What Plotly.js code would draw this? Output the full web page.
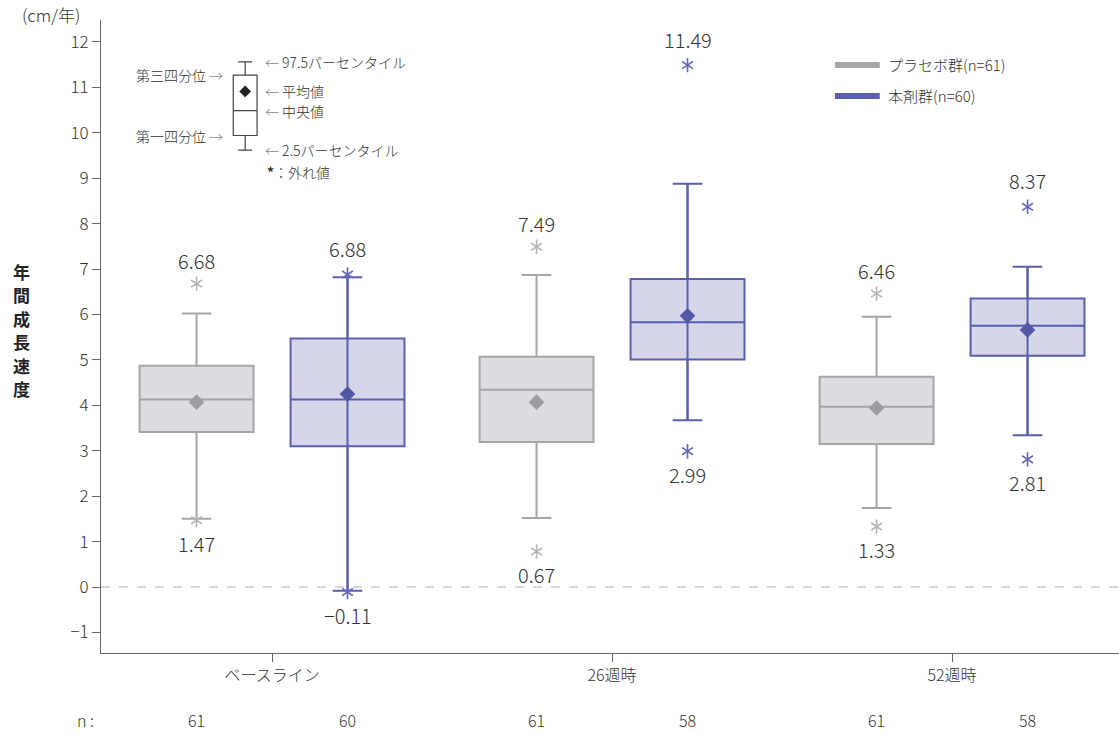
<!DOCTYPE html>
<html>
<head>
<meta charset="utf-8">
<script src="https://cdn.plot.ly/plotly-3.0.1.min.js"></script>
<style>html,body{margin:0;padding:0;background:#fff;}#chart{width:1119px;height:734px;}</style>
</head>
<body>
<div id="chart"></div>
<script>
// ---- data ----
const categories = ['ベースライン', '26週時', '52週時'];

const placeboQ1     = [3.41, 3.19, 3.15];
const placeboMedian = [4.13, 4.34, 3.97];
const placeboQ3     = [4.87, 5.07, 4.63];
const placeboLower  = [1.50, 1.52, 1.74];
const placeboUpper  = [6.02, 6.87, 5.95];
const placeboMean   = [4.07, 4.07, 3.94];
const placeboOutHigh = [6.68, 7.49, 6.46];
const placeboOutLow  = [1.47, 0.67, 1.33];
const placeboOutLowMark = [1.47, 0.78, 1.33];
const placeboN = [61, 61, 61];

const drugQ1     = [3.10, 5.01, 5.09];
const drugMedian = [4.13, 5.83, 5.75];
const drugQ3     = [5.47, 6.78, 6.35];
const drugLower  = [-0.08, 3.67, 3.34];
const drugUpper  = [6.82, 8.88, 7.05];
const drugMean   = [4.25, 5.97, 5.66];
const drugOutHigh = [6.88, 11.49, 8.37];
const drugOutLow  = [-0.11, 2.99, 2.81];
const drugN = [60, 58, 58];

const yTicks = [-1, 0, 1, 2, 3, 4, 5, 6, 7, 8, 9, 10, 11, 12];
const yTitleChars = ['年', '間', '成', '長', '速', '度'];

// key (explanatory inset)
const keyQ1 = [9.94], keyMedian = [10.49], keyQ3 = [11.27], keyLower = [9.62], keyUpper = [11.56], keyMean = [10.91];
const keyLabelsRight = ['97.5パーセンタイル', '平均値', '中央値', '2.5パーセンタイル'];
const keyLabelsLeft = ['第三四分位', '第一四分位'];

// ---- styling ----
const FONT = '"Noto Sans CJK JP", "Noto Sans", sans-serif';
const TXT = '#333333';
const WT = 300;
const GRAY_LINE = '#a4a5a7', GRAY_FILL = '#dcdde0', GRAY_MEAN = '#9c9da0', GRAY_STAR = '#b2b3b5';
const PURP_LINE = '#5a5eae', PURP_FILL = '#d5d6ea', PURP_MEAN = '#5457a8', PURP_STAR = '#6266b6';
const OFF = 0.222, BOXW = 0.335;

const idx = categories.map((c, i) => i);
const xP = idx.map(i => i - OFF);
const xD = idx.map(i => i + OFF);

const traces = [];

function boxTrace(x, q1, med, q3, lo, up, line, fill, lw, ww, w) {
  return {
    type: 'box', x: x, q1: q1, median: med, q3: q3, lowerfence: lo, upperfence: up,
    width: w, whiskerwidth: ww, boxpoints: false,
    line: {color: line, width: lw}, fillcolor: fill, hoverinfo: 'skip', showlegend: false
  };
}
traces.push(boxTrace(xP, placeboQ1, placeboMedian, placeboQ3, placeboLower, placeboUpper, GRAY_LINE, GRAY_FILL, 2, 0.26, BOXW));
traces.push(boxTrace(xD, drugQ1, drugMedian, drugQ3, drugLower, drugUpper, PURP_LINE, PURP_FILL, 2, 0.26, BOXW));

// drug: whisker line continues through the box
const vx = [], vy = [];
idx.forEach(i => { vx.push(xD[i], xD[i], null); vy.push(drugLower[i], drugUpper[i], null); });
traces.push({type: 'scatter', mode: 'lines', x: vx, y: vy, line: {color: PURP_LINE, width: 2}, hoverinfo: 'skip', showlegend: false});

// means
traces.push({type: 'scatter', mode: 'markers', x: xP, y: placeboMean, marker: {symbol: 'diamond', size: 12, color: GRAY_MEAN}, hoverinfo: 'skip', showlegend: false});
traces.push({type: 'scatter', mode: 'markers', x: xD, y: drugMean, marker: {symbol: 'diamond', size: 12, color: PURP_MEAN}, hoverinfo: 'skip', showlegend: false});

// outliers (six-armed asterisks)
function stars(x, y, color, size) {
  ['y-up-open', 'y-down-open'].forEach(s => traces.push({
    type: 'scatter', mode: 'markers', x: x, y: y,
    marker: {symbol: s, size: size, line: {color: color, width: 1.6}, color: color},
    hoverinfo: 'skip', showlegend: false
  }));
}
stars(xP.concat(xP), placeboOutHigh.concat(placeboOutLowMark), GRAY_STAR, 9);
stars(xD.concat(xD), drugOutHigh.concat(drugOutLow), PURP_STAR, 9);

// key box
const keyX = [-0.079];
traces.push(boxTrace(keyX, keyQ1, keyMedian, keyQ3, keyLower, keyUpper, '#444444', '#ffffff', 1.2, 0.58, 0.07));
traces.push({type: 'scatter', mode: 'markers', x: keyX, y: keyMean, marker: {symbol: 'diamond', size: 9, color: '#222222'}, hoverinfo: 'skip', showlegend: false});

// ---- annotations ----
const ann = [];
function f(size, color, weight) { return {family: FONT, size: size, color: color || TXT, weight: weight || WT}; }
function valLabel(x, y, v, shift) {
  ann.push({x: x, y: y, xref: 'x', yref: 'y', text: v.toFixed(2).replace('-', '\u2212'), showarrow: false,
    yshift: shift, xanchor: 'center', yanchor: 'middle', font: f(20)});
}
idx.forEach(i => {
  valLabel(xP[i], placeboOutHigh[i], placeboOutHigh[i], 23);
  valLabel(xP[i], placeboOutLowMark[i], placeboOutLow[i], -23);
  valLabel(xD[i], drugOutHigh[i], drugOutHigh[i], 26);
  valLabel(xD[i], drugOutLow[i], drugOutLow[i], -23);
});

// n row
ann.push({x: -0.005, y: -0.106, xref: 'paper', yref: 'paper', text: 'n :', showarrow: false, xanchor: 'right', yanchor: 'middle', font: f(16)});
idx.forEach(i => {
  ann.push({x: xP[i], y: -0.106, xref: 'x', yref: 'paper', text: String(placeboN[i]), showarrow: false, xanchor: 'center', yanchor: 'middle', font: f(16)});
  ann.push({x: xD[i], y: -0.106, xref: 'x', yref: 'paper', text: String(drugN[i]), showarrow: false, xanchor: 'center', yanchor: 'middle', font: f(16)});
});

// y title (upright stacked characters) and unit
yTitleChars.forEach((ch, k) => ann.push({x: -0.078, y: 0.51, yshift: (2.5 - k) * 23.5, xref: 'paper', yref: 'paper', text: ch,
  showarrow: false, xanchor: 'center', yanchor: 'middle', font: f(17, '#222', 700)}));
ann.push({x: -0.049, y: 1.008, xref: 'paper', yref: 'paper', text: '(cm/年)', showarrow: false, xanchor: 'center', yanchor: 'middle', font: f(17)});

// legend
const legendItems = [['プラセボ群(n=61)', GRAY_LINE, 0.929], ['本剤群(n=60)', PURP_LINE, 0.880]];
const shapes = [];
legendItems.forEach(([t, c, y]) => {
  shapes.push({type: 'line', xref: 'paper', yref: 'paper', x0: 0.721, x1: 0.765, y0: y, y1: y, line: {color: c, width: 6}});
  ann.push({x: 0.771, y: y, xref: 'paper', yref: 'paper', text: t, showarrow: false, xanchor: 'left', yanchor: 'middle', font: f(15)});
});

// zero reference line
shapes.push({type: 'line', xref: 'paper', yref: 'y', x0: 0, x1: 1, y0: 0, y1: 0, line: {color: '#b0b0b0', width: 1.2, dash: 'dash'}});

// key labels
const ARW = '<span style="color:#8a8a8a">\u2190</span> ';
const ARWR = ' <span style="color:#8a8a8a">\u2192</span>';
const keyRightY = [keyUpper[0], keyMean[0], keyMedian[0], keyLower[0]];
keyLabelsRight.forEach((t, k) => ann.push({x: -0.027, y: keyRightY[k], xref: 'x', yref: 'y', text: ARW + t, showarrow: false,
  xanchor: 'left', yanchor: 'middle', font: f(14)}));
const keyLeftY = [keyQ3[0], keyQ1[0]];
keyLabelsLeft.forEach((t, k) => ann.push({x: -0.138, y: keyLeftY[k], xref: 'x', yref: 'y', text: t + ARWR, showarrow: false,
  xanchor: 'right', yanchor: 'middle', font: f(14)}));
ann.push({x: -0.02, y: keyLower[0], yshift: -22, xref: 'x', yref: 'y', text: '<b>*</b>：外れ値', showarrow: false,
  xanchor: 'left', yanchor: 'middle', font: f(14)});

const layout = {
  width: 1119, height: 734,
  margin: {l: 101, r: 0, t: 20, b: 81},
  paper_bgcolor: '#ffffff', plot_bgcolor: '#ffffff',
  showlegend: false,
  font: {family: FONT, color: TXT, weight: WT},
  xaxis: {
    range: [-0.503, 2.491], tickvals: idx, ticktext: categories,
    showline: true, linecolor: '#666', linewidth: 1, ticks: 'outside', ticklen: 8, tickcolor: '#666',
    showgrid: false, zeroline: false, tickfont: f(16)
  },
  yaxis: {
    range: [-1.453, 12.483], tickvals: yTicks, ticktext: yTicks.map(v => String(v).replace('-', '\u2212')),
    showline: true, linecolor: '#666', linewidth: 1, ticks: 'outside', ticklen: 8, tickcolor: '#666',
    showgrid: false, zeroline: false, tickfont: f(17)
  },
  shapes: shapes,
  annotations: ann
};

Plotly.newPlot('chart', traces, layout, {staticPlot: true, displayModeBar: false});
</script>
</body>
</html>
